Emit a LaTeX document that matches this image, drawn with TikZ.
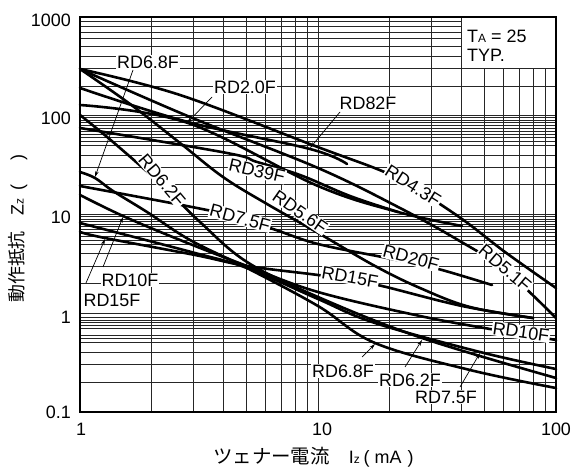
\documentclass[tikz,border=0pt]{standalone}
\usepackage{fontspec}
\setmainfont{Liberation Sans}
\newfontfamily\jp{Noto Sans CJK JP}
\usetikzlibrary{arrows.meta}
\begin{document}
\begin{tikzpicture}[x=1bp,y=-1bp,
  gridl/.style={line width=0.8bp,black!85},
  curve/.style={line width=2.6bp,black,line cap=round},
  lbl/.style={font=\fontsize{18}{18}\selectfont,fill=white,inner sep=0.8pt},
  tick/.style={font=\fontsize{18}{18}\selectfont,inner sep=0pt},
  arr/.style={line width=0.7bp,-{Stealth[length=6bp,width=3.5bp]}}]
\useasboundingbox (0,0) rectangle (573,472);
\fill[white] (0,0) rectangle (573,472);
% grid
\foreach \d in {0,1}{\foreach \m in {2,...,9}{
  \pgfmathsetmacro\xx{80+238*(\d+log10(\m))}
  \draw[gridl] (\xx,17)--(\xx,412);}}
\draw[gridl] (318,17)--(318,412);
\foreach \d in {0,1,2,3}{\foreach \m in {2,...,9}{
  \pgfmathsetmacro\yy{411.8-98.7*(\d+log10(\m))}
  \draw[gridl] (80,\yy)--(556,\yy);}}
\foreach \d in {1,2}{\foreach \m in {5.5,6.5,7.5,8.5,9.5}{
  \pgfmathsetmacro\yy{411.8-98.7*(\d+log10(\m))}
  \draw[gridl] (80,\yy)--(556,\yy);}}
\foreach \m in {5.5,7.5,8.5}{
  \pgfmathsetmacro\yy{411.8-98.7*(log10(\m))}
  \draw[gridl] (80,\yy)--(556,\yy);}
\foreach \yy in {115.7,214.4,313.1}{\draw[gridl] (80,\yy)--(556,\yy);}
% inset box
\fill[white] (461.3,17) rectangle (556,68.6);
\draw[gridl] (461.3,17)--(461.3,68.6)--(556,68.6);
\node[tick,anchor=west] (ta) at (467,36) {T{\fontsize{12}{12}\selectfont A} = 25};
\node[tick,anchor=west] (typ) at (467,55) {TYP.};
% curves (upper group)
\draw[curve] plot[smooth,tension=0.6] coordinates {(80,69) (180,95) (315,146) (382,171) (413,187) (462,219) (505,252) (556,288)};
\draw[curve] plot[smooth,tension=0.6] coordinates {(80,69) (190,117) (318,168) (400,208) (458,240) (505,270) (556,318)};
\draw[curve] plot[smooth,tension=0.6] coordinates {(80,69) (130,104) (180,143) (223,177) (267,204) (320,234) (375,266) (420,288) (470,307) (533,318)};
\draw[curve] plot[smooth,tension=0.6] coordinates {(80,88) (188,122) (310,149) (347,164)};
\draw[curve] plot[smooth,tension=0.6] coordinates {(80,105) (188,123) (318,186) (398,212) (462,226)};
\draw[curve] plot[smooth,tension=0.6] coordinates {(80,128) (227,153) (257,162) (300,175) (350,196) (398,212)};
% curves (lower group)
\draw[curve] plot[smooth,tension=0.6] coordinates {(80,115) (113,142) (163,186) (200,222) (247,262) (318,297) (422,338) (556,378)};
\draw[curve] plot[smooth,tension=0.6] coordinates {(80,172) (95,178) (113,191) (147,212) (190,240) (247,268) (318,306) (375,343) (470,370) (556,388)};
\draw[curve] plot[smooth,tension=0.6] coordinates {(80,186) (207,210) (240,219) (273,229) (318,244) (382,257) (411,263) (442,270) (492,285)};
\draw[curve] plot[smooth,tension=0.6] coordinates {(80,195) (123,216) (180,240) (247,266) (318,292) (420,316) (490,329) (521,334) (556,340)};
\draw[curve] plot[smooth,tension=0.6] coordinates {(80,223) (195,253) (247,268) (318,299) (375,323) (480,352) (556,369)};
\draw[curve] plot[smooth,tension=0.6] coordinates {(80,232) (105,238) (195,255) (247,266) (318,275) (350,280) (382,286) (462,306) (533,318)};
% labels
\node[lbl] (a68) at (148,62) {RD6.8F};
\node[lbl] (a20) at (245,87) {RD2.0F};
\node[lbl] (a82) at (368,103) {RD82F};
\node[lbl,rotate=-13] (a39) at (257,171) {RD39F};
\node[lbl,rotate=-32] (a43) at (413,186) {RD4.3F};
\node[lbl,rotate=-35] (a56) at (300,212) {RD5.6F};
\node[lbl,rotate=-50] (a62) at (162,180) {RD6.2F};
\node[lbl,rotate=-15] (a75) at (240,218) {RD7.5F};
\node[lbl,rotate=-40] (a51) at (505,268) {RD5.1F};
\node[lbl,rotate=-15] (b20) at (411,258) {RD20F};
\node[lbl,rotate=-10] (b15) at (350,277) {RD15F};
\node[lbl,rotate=-8] (b10) at (521,332) {RD10F};
\node[lbl] (c10) at (130,280) {RD10F};
\node[lbl] (c15) at (112,300) {RD15F};
\node[lbl] (c68) at (343,371) {RD6.8F};
\node[lbl] (c62) at (410,380) {RD6.2F};
\node[lbl] (c75) at (446,397) {RD7.5F};
% arrows
\coordinate (s1) at (133,70);  \coordinate (t1) at (95,177);
\coordinate (s2) at (212,97);  \coordinate (t2) at (187,123);
\coordinate (s3) at (340,112); \coordinate (t3) at (310,148);
\coordinate (s4) at (103,267); \coordinate (t4) at (123,217);
\coordinate (s5) at (86,283);  \coordinate (t5) at (105,239);
\coordinate (s6) at (362,357); \coordinate (t6) at (375,344);
\coordinate (s7) at (405,367); \coordinate (t7) at (422,340);
\coordinate (s8) at (460,387); \coordinate (t8) at (480,353);
\foreach \i in {1,...,8}{\draw[arr] (s\i)--(t\i);}
% frame
\draw[line width=2.6bp] (80,17) rectangle (556,412);
% ticks
\node[tick,anchor=east] at (71,20) {1000};
\node[tick,anchor=east] at (71,118) {100};
\node[tick,anchor=east] at (71,217.5) {10};
\node[tick,anchor=east] at (71,317) {1};
\node[tick,anchor=east] at (71,412) {0.1};
\node[tick] at (81,429) {1};
\node[tick] at (322,429) {10};
\node[tick] at (556,429) {100};
% titles
\node[tick,anchor=west] (xt) at (213,457) {{\jp\fontsize{19.5}{19.5}\selectfont ツェナー電流}\hspace{19bp}I{\fontsize{12}{12}\selectfont z}\hspace{4bp}(\hspace{5bp}mA\hspace{6bp})};
\node[tick,rotate=90,anchor=west] (yt) at (18,303) {{\jp 動作抵抗}\hspace{16bp}Z{\fontsize{12}{12}\selectfont z}\hspace{8bp}(\hspace{24bp})};
\end{tikzpicture}
\end{document}
